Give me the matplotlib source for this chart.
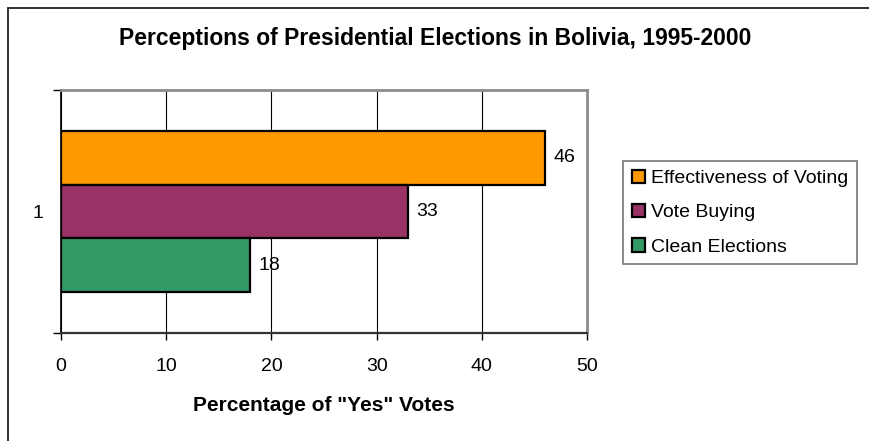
#!/usr/bin/env python3
"""Perceptions of presidential elections in Bolivia, horizontal grouped bar."""

import matplotlib.pyplot as plt
from matplotlib.patches import Rectangle

plt.rcParams["font.family"] = ["Liberation Sans", "DejaVu Sans"]

categories = ["1"]
series = ["Effectiveness of Voting", "Vote Buying", "Clean Elections"]
values = [46, 33, 18]
colors = ["#FF9900", "#993366", "#339966"]
xticks = [0, 10, 20, 30, 40, 50]

W, H = 870, 441
fig = plt.figure(figsize=(W / 100, H / 100), dpi=100)

# outer chart border (runs off the right/bottom edges in the original)
fig.patches.append(Rectangle((8 / W, -0.1), 1.1, (H - 8) / H + 0.1,
                             transform=fig.transFigure, fill=False,
                             edgecolor="#222222", lw=1.3))

ax = fig.add_axes([61 / W, (H - 333) / H, 526 / W, 243 / H])

bar_h = 0.222
offsets = [bar_h, 0.0, -bar_h]
handles = []
for name, val, col, off in zip(series, values, colors, offsets):
    b = ax.barh(0 + off, val, height=bar_h, color=col, edgecolor="black",
                linewidth=1.6, label=name, zorder=3)
    handles.append(b)
    ax.annotate(str(val), (val, off), xytext=(6, 0), textcoords="offset points",
                va="center", ha="left", fontsize=14)

ax.set_xlim(0, 50)
ax.set_ylim(-0.5, 0.5)
ax.set_xticks(xticks)
ax.set_xticklabels([str(t) for t in xticks], fontsize=14)
ax.tick_params(axis="x", length=5, width=1, pad=13, direction="out")
ax.set_yticks([-0.5, 0.5])
ax.set_yticklabels(["", ""])
ax.set_yticks([0], minor=True)
ax.set_yticklabels(categories, minor=True, fontsize=14)
ax.tick_params(axis="y", which="major", length=6, width=1)
ax.tick_params(axis="y", which="minor", length=0, pad=13)
ax.grid(axis="x", color="black", lw=0.8, zorder=0)

for side in ("top", "right"):
    ax.spines[side].set_color("#8c8c8c")
    ax.spines[side].set_linewidth(2)
ax.spines["left"].set_color("black")
ax.spines["bottom"].set_color("#333333")
ax.spines["left"].set_linewidth(1.2)
ax.spines["bottom"].set_linewidth(1.6)

ax.set_xlabel('Percentage of "Yes" Votes', fontsize=15, fontweight="bold",
              labelpad=15)
fig.text(0.5, (H - 38) / H, "Perceptions of Presidential Elections in Bolivia, 1995-2000",
         ha="center", va="center", fontsize=16.5, fontweight="bold")

leg = fig.legend(handles=handles, loc="upper left",
                 bbox_to_anchor=(623 / W, (H - 161) / H), fontsize=14,
                 frameon=True, fancybox=False, edgecolor="#555555",
                 handlelength=0.7, handleheight=0.7, handletextpad=0.3,
                 labelspacing=0.85, borderpad=0.45, borderaxespad=0)
leg.get_frame().set_linewidth(1.2)

fig.savefig("out.png", dpi=100)
